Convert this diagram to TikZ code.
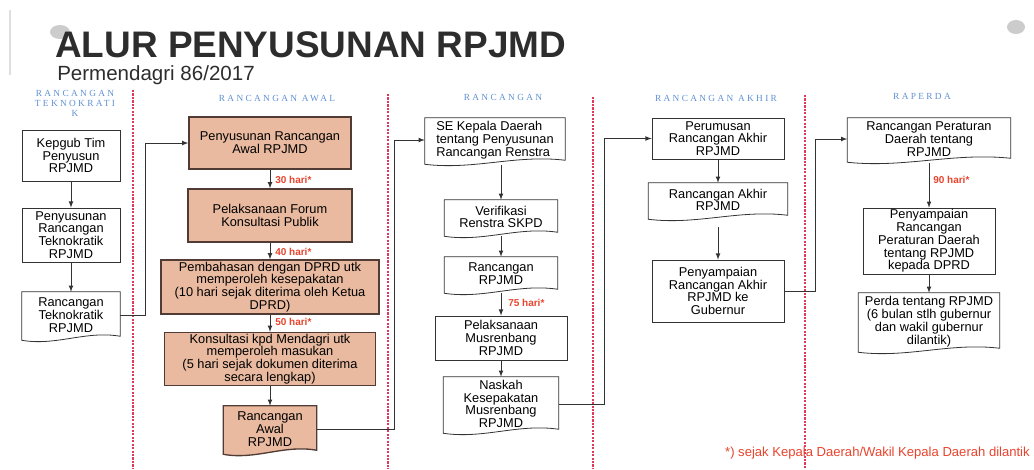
\documentclass[tikz,border=0pt]{standalone}
\usepackage{fontspec}
\setmainfont{Liberation Sans}
\newfontfamily\headserif[LetterSpace=25]{Liberation Serif}
\usetikzlibrary{arrows, calc, backgrounds}

\definecolor{awalfill}{RGB}{233,186,160}
\definecolor{awalline}{RGB}{80,60,52}
\definecolor{headblue}{RGB}{95,145,210}
\definecolor{divred}{RGB}{225,55,90}
\definecolor{harired}{RGB}{232,68,45}
\definecolor{titlegray}{RGB}{45,45,45}

\newcommand{\boxfnt}{\fontsize{9.6}{9.6}\selectfont}
\newcommand{\headfnt}{\headserif\fontsize{7}{7.5}\selectfont}
\newcommand{\harifnt}{\bfseries\fontsize{7.5}{8}\selectfont}

% outline of a document shape (wavy bottom), drawn behind the node text
\newcommand{\docshape}[2]{%
  \begin{scope}[on background layer]
    \draw[#2] (#1.north west) -- (#1.north east) -- ($(#1.south east)+(0,-2)$)
      .. controls ($(#1.south west)!0.65!(#1.south east)+(0,-8)$) and ($(#1.south west)!0.35!(#1.south east)+(0,8)$) .. ($(#1.south west)+(0,2)$) -- cycle;
  \end{scope}}

\tikzset{
  sz/.style 2 args={minimum width=#1*0.75pt, minimum height=#2*0.75pt},
  stepbox/.style={draw=black!80, line width=0.6pt, fill=white, font=\boxfnt, align=center, inner sep=1pt},
  awalbox/.style={stepbox, fill=awalfill, draw=awalline, line width=1pt},
  docbox/.style={font=\boxfnt, align=center, inner sep=1pt},
  docline/.style={draw=black!80, line width=0.6pt, fill=white},
  docawal/.style={draw=awalline, line width=1pt, fill=awalfill},
  colhead/.style={font=\headfnt, text=headblue, align=center, inner sep=0pt},
  hari/.style={font=\harifnt, text=harired, anchor=west, inner sep=0pt},
  divider/.style={draw=divred, line width=0.9pt, dash pattern=on 1.6pt off 1pt},
  flow/.style={-latex, line width=0.6pt, draw=black!80}
}

\begin{document}
\begin{tikzpicture}[x=0.75pt, y=-0.75pt]
  \useasboundingbox (0,0) rectangle (1034,469);

  % ornaments
  \draw[gray!25, line width=1pt] (10,10) -- (10,75);
  \fill[gray!40] (60,32) ellipse (10 and 7);
  \fill[gray!40] (1016,27) ellipse (9 and 7);

  % title
  \node[anchor=base west, font=\bfseries\fontsize{27.7}{30}\selectfont, text=titlegray, inner sep=0pt] (title) at (55,57) {ALUR PENYUSUNAN RPJMD};
  \node[anchor=base west, font=\fontsize{15.4}{17}\selectfont, text=titlegray, inner sep=0pt] (subtitle) at (57,80) {Permendagri 86/2017};

  % column dividers
  \foreach \x/\y in {133/90, 388/94, 593/97, 805/95}
    \draw[divider] (\x,\y) -- (\x,469);

  % column headers
  \node[colhead] (htek) at (75,103) {RANCANGAN\\TEKNOKRATI\\K};
  \node[colhead] (hawal) at (277,98) {RANCANGAN AWAL};
  \node[colhead] (hranc) at (503,97) {RANCANGAN};
  \node[colhead] (hakhir) at (716,98) {RANCANGAN AKHIR};
  \node[colhead] (hperda) at (922,96) {RAPERDA};

  % rancangan teknokratik
  \node[stepbox, sz={98}{51}] (kepgub) at (71,155.5) {Kepgub Tim\\Penyusun\\RPJMD};
  \node[stepbox, sz={98}{54}] (tekno) at (71,235) {Penyusunan\\Rancangan\\Teknokratik\\RPJMD};
  \node[docbox, sz={98}{46}] (rtekno) at (71,315) {Rancangan\\Teknokratik\\RPJMD};
  \docshape{rtekno}{docline}

  % rancangan awal
  \node[awalbox, sz={162}{52}] (awal) at (270,143) {Penyusunan Rancangan\\Awal RPJMD};
  \node[awalbox, sz={164}{53}] (forum) at (270,215.5) {Pelaksanaan Forum\\Konsultasi Publik};
  \node[awalbox, sz={218}{54}] (dprd) at (270,287) {Pembahasan dengan DPRD utk\\memperoleh kesepakatan\\(10 hari sejak diterima oleh Ketua\\DPRD)};
  \node[awalbox, sz={211}{50}] (mendagri) at (270,359) {Konsultasi kpd Mendagri utk\\memperoleh masukan\\(5 hari sejak dokumen diterima\\secara lengkap)};
  \node[docbox, sz={93}{46}] (rawal) at (270,429) {Rancangan\\Awal\\RPJMD};
  \docshape{rawal}{docawal}

  \node[hari] (h30) at (275,180) {30 hari*};
  \node[hari] (h40) at (275,252) {40 hari*};
  \node[hari] (h50) at (275,322) {50 hari*};

  % rancangan
  \node[docbox, sz={140}{44}, align=left] (se) at (495,140) {SE Kepala Daerah\\tentang Penyusunan\\Rancangan Renstra};
  \docshape{se}{docline}
  \node[docbox, sz={113}{34}] (verif) at (501,217) {Verifikasi\\Renstra SKPD};
  \docshape{verif}{docline}
  \node[docbox, sz={113}{34}] (rrpjmd) at (501,274) {Rancangan\\RPJMD};
  \docshape{rrpjmd}{docline}
  \node[stepbox, sz={132}{44}] (musren) at (501,338) {Pelaksanaan\\Musrenbang\\RPJMD};
  \node[docbox, sz={115}{54}] (naskah) at (501,404) {Naskah\\Kesepakatan\\Musrenbang\\RPJMD};
  \docshape{naskah}{docline}

  \node[hari] (h75) at (508,303) {75 hari*};

  % rancangan akhir
  \node[stepbox, sz={132}{41}] (perumusan) at (718,138.5) {Perumusan\\Rancangan Akhir\\RPJMD};
  \node[docbox, sz={139}{34}] (rakhir) at (718,200) {Rancangan Akhir\\RPJMD};
  \docshape{rakhir}{docline}
  \node[stepbox, sz={132}{62}] (sampai) at (718,291) {Penyampaian\\Rancangan Akhir\\RPJMD ke\\Gubernur};

  % raperda
  \node[docbox, sz={163}{42}] (rperda) at (929,139) {Rancangan Peraturan\\Daerah tentang\\RPJMD};
  \docshape{rperda}{docline}
  \node[stepbox, sz={132}{64}] (sampaiperda) at (929,241) {Penyampaian\\Rancangan\\Peraturan Daerah\\tentang RPJMD\\kepada DPRD};
  \node[docbox, sz={141}{57}] (perda) at (929,321.5) {Perda tentang RPJMD\\(6 bulan stlh gubernur\\dan wakil gubernur\\dilantik)};
  \docshape{perda}{docline}

  \node[hari] (h90) at (933,180) {90 hari*};

  % connectors
  \draw[flow] (kepgub) -- (tekno);
  \draw[flow] (tekno) -- (rtekno);
  \draw[flow] (rtekno.east) -- ++(25,0) |- (awal.west);

  \draw[flow] (awal) -- (forum);
  \draw[flow] (forum) -- (dprd);
  \draw[flow] (dprd) -- (mendagri);
  \draw[flow] (mendagri) -- (rawal);
  \draw[flow] (rawal.east) -- ++(78,0) |- (se.west);

  \draw[flow] ($(se.south -| verif.north)+(0,3)$) -- (verif.north);
  \draw[flow] ($(verif.south)+(0,2)$) -- (rrpjmd);
  \draw[flow] ($(rrpjmd.south)+(0,2)$) -- (musren);
  \draw[flow] (musren) -- (naskah);
  \draw[flow] (naskah.east) -- ++(46,0) |- (perumusan.west);

  \draw[flow] (perumusan) -- (rakhir);
  \draw[flow] ($(rakhir.south)+(0,10)$) -- (sampai);
  \draw[flow] (sampai.east) -- ++(31,0) |- (rperda.west);

  \draw[flow] ($(rperda.south)+(0,3)$) -- (sampaiperda);
  \draw[flow] (sampaiperda) -- (perda);

  % footnote
  \node[anchor=base east, font=\fontsize{9.8}{11}\selectfont, text=harired, inner sep=0pt] (note) at (1030,456) {*) sejak Kepala Daerah/Wakil Kepala Daerah dilantik};
\end{tikzpicture}
\end{document}
